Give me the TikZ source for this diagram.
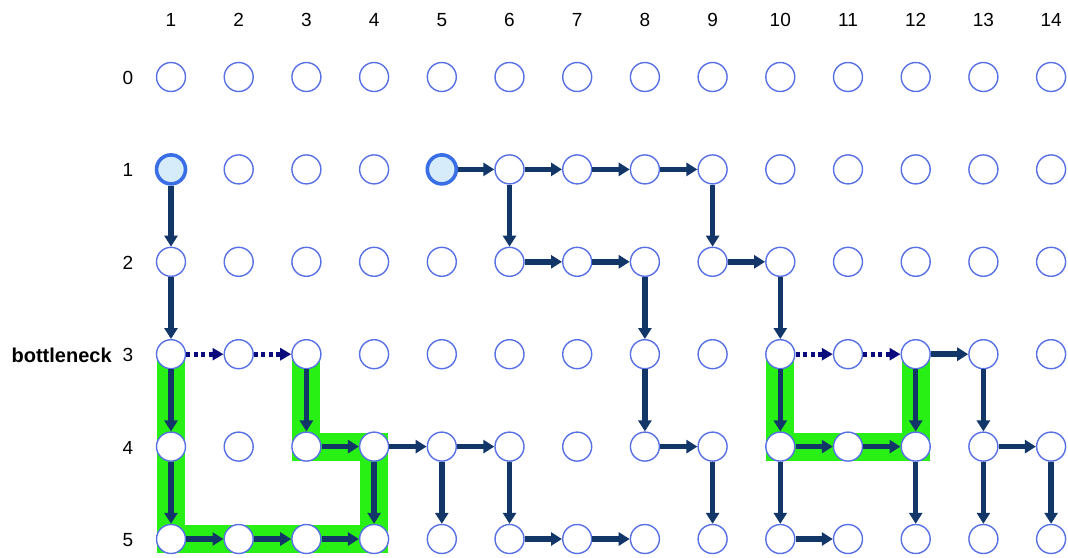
\documentclass[tikz,border=0pt]{standalone}
\usepackage{fontspec}
\setmainfont{Liberation Sans}
\usetikzlibrary{arrows.meta,backgrounds}
\definecolor{ringblue}{RGB}{88,112,230}
\definecolor{startfill}{RGB}{214,236,250}
\definecolor{startring}{RGB}{58,110,230}
\definecolor{flowblue}{RGB}{18,54,104}
\definecolor{dotblue}{RGB}{10,10,125}
\definecolor{cutgreen}{RGB}{40,240,20}

\begin{document}
\begin{tikzpicture}[x=1pt, y=-1pt, every node/.style={font=\fontsize{19}{22}\selectfont}]
  \tikzstyle{v}=[draw=ringblue, fill=white, circle, line width=1.4pt, inner sep=0pt, minimum size=29pt]
  \tikzstyle{src}=[v, draw=startring, fill=startfill, line width=3.6pt]
  \tikzstyle{arr}=[draw=flowblue, line width=5.5pt, -{Triangle[length=11pt, width=13pt]}]
  \tikzstyle{res}=[draw=dotblue, line width=5pt, dash pattern=on 4pt off 3.5pt, -{Triangle[length=11pt, width=12pt]}]
  \tikzstyle{cut}=[draw=cutgreen, line width=28pt, miter limit=4]
  \useasboundingbox (0, 0) rectangle (1068, 557);
  \foreach \c in {1,...,14} {
    \node (c\c) at ({171+(\c-1)*67.7}, 20) {\c};
    \foreach \r in {0,...,5}
      \node[v] (n-\c-\r) at ({171+(\c-1)*67.7}, {77+\r*92.4}) {};
  }
  \foreach \r in {0,...,5}
    \node (r\r) at (128, {78+\r*92.4}) {\r};
  \node[anchor=east, xshift=-4pt, font=\fontsize{20}{22}\selectfont\bfseries] (bn) at (r3.west) {bottleneck};
  \node[src] (n-1-1) at (n-1-1) {}; \node[src] (n-5-1) at (n-5-1) {};
  % min cut
  \begin{pgfonlayer}{background}
    \draw[cut] (n-1-3.center) -- (n-1-5.center) -- (n-4-5.center) -- (n-4-4.center) -- (n-3-4.center) -- (n-3-3.center);
    \draw[cut] (n-10-3.center) -- (n-10-4.center) -- (n-12-4.center) -- (n-12-3.center);
  \end{pgfonlayer}
  % left source
  \draw[arr] (n-1-1) -- (n-1-2); \draw[arr] (n-1-2) -- (n-1-3);
  \draw[res] (n-1-3) -- (n-2-3); \draw[res] (n-2-3) -- (n-3-3);
  \draw[arr] (n-1-3) -- (n-1-4); \draw[arr] (n-1-4) -- (n-1-5);
  \draw[arr] (n-1-5) -- (n-2-5); \draw[arr] (n-2-5) -- (n-3-5); \draw[arr] (n-3-5) -- (n-4-5);
  \draw[arr] (n-3-3) -- (n-3-4); \draw[arr] (n-3-4) -- (n-4-4); \draw[arr] (n-4-4) -- (n-4-5);
  \draw[arr] (n-4-4) -- (n-5-4); \draw[arr] (n-5-4) -- (n-6-4); \draw[arr] (n-5-4) -- (n-5-5);
  \draw[arr] (n-6-4) -- (n-6-5); \draw[arr] (n-6-5) -- (n-7-5); \draw[arr] (n-7-5) -- (n-8-5);
  % right source
  \draw[arr] (n-5-1) -- (n-6-1); \draw[arr] (n-6-1) -- (n-7-1);
  \draw[arr] (n-7-1) -- (n-8-1); \draw[arr] (n-8-1) -- (n-9-1);
  \draw[arr] (n-6-1) -- (n-6-2); \draw[arr] (n-6-2) -- (n-7-2); \draw[arr] (n-7-2) -- (n-8-2);
  \draw[arr] (n-8-2) -- (n-8-3); \draw[arr] (n-8-3) -- (n-8-4);
  \draw[arr] (n-8-4) -- (n-9-4); \draw[arr] (n-9-4) -- (n-9-5);
  \draw[arr] (n-9-1) -- (n-9-2); \draw[arr] (n-9-2) -- (n-10-2); \draw[arr] (n-10-2) -- (n-10-3);
  \draw[res] (n-10-3) -- (n-11-3); \draw[res] (n-11-3) -- (n-12-3);
  \draw[arr] (n-10-3) -- (n-10-4); \draw[arr] (n-10-4) -- (n-11-4); \draw[arr] (n-11-4) -- (n-12-4);
  \draw[arr] (n-12-3) -- (n-12-4); \draw[arr] (n-12-3) -- (n-13-3);
  \draw[arr] (n-13-3) -- (n-13-4); \draw[arr] (n-13-4) -- (n-14-4);
  \draw[arr] (n-13-4) -- (n-13-5); \draw[arr] (n-14-4) -- (n-14-5);
  \draw[arr] (n-10-4) -- (n-10-5); \draw[arr] (n-10-5) -- (n-11-5); \draw[arr] (n-12-4) -- (n-12-5);
\end{tikzpicture}
\end{document}
